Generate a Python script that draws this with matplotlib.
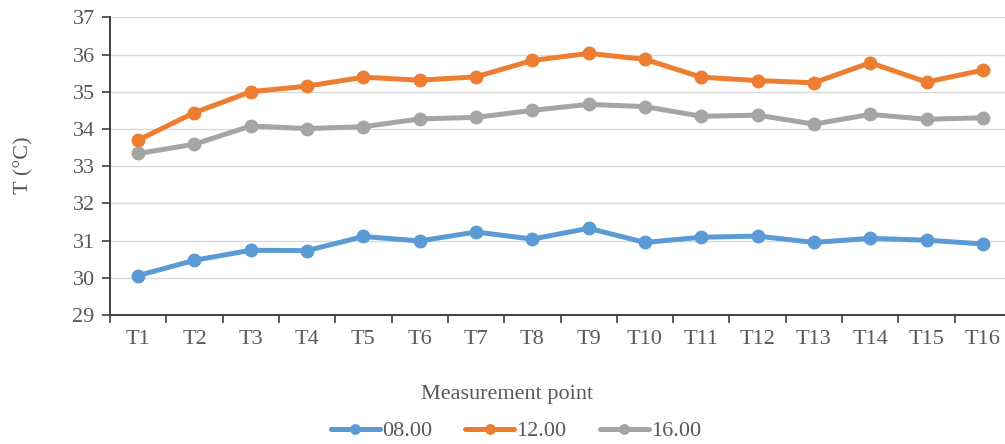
"""Temperature at the measurement points, three times of day."""
import matplotlib
matplotlib.use('Agg')
import matplotlib.pyplot as plt

POINTS = [f'T{i}' for i in range(1, 17)]
T_0800 = [30.06, 30.47, 30.74, 30.73, 31.11, 30.99, 31.23, 31.04,
          31.33, 30.95, 31.09, 31.12, 30.95, 31.06, 31.01, 30.91]
T_1200 = [33.70, 34.44, 35.00, 35.15, 35.39, 35.31, 35.40, 35.84,
          36.03, 35.87, 35.39, 35.30, 35.24, 35.78, 35.26, 35.58]
T_1600 = [33.34, 33.59, 34.08, 34.01, 34.06, 34.27, 34.31, 34.50,
          34.66, 34.60, 34.34, 34.37, 34.13, 34.39, 34.26, 34.30]
SERIES = [('08.00', T_0800, '#5B9BD5'),
          ('12.00', T_1200, '#ED7D31'),
          ('16.00', T_1600, '#A5A5A5')]
YTICKS = list(range(29, 38))

TXT = '#595959'
W, H = 1005, 444
FS = 16


def main():
    plt.rcParams['font.family'] = ['Liberation Serif', 'DejaVu Serif']
    fig = plt.figure(figsize=(W / 100, H / 100), dpi=100)
    # axes runs slightly past the right edge of the figure, as in the source
    ax = fig.add_axes([110 / W, 1 - 315 / H, 901 / W, 297.7 / H])

    x = list(range(1, len(POINTS) + 1))
    for name, vals, col in SERIES:
        ax.plot(x, vals, color=col, lw=3.6, marker='o', ms=9,
                solid_capstyle='round', label=name, zorder=3)

    ax.set_xlim(0.5, len(POINTS) + 0.5)
    ax.set_ylim(29, 37)
    ax.set_yticks(YTICKS)
    ax.set_xticks(x)
    ax.set_xticklabels(POINTS)
    ax.set_xticks([i + 0.5 for i in range(len(POINTS) + 1)], minor=True)
    ax.tick_params(axis='x', which='major', length=0, pad=11,
                   labelsize=FS, labelcolor=TXT)
    ax.tick_params(axis='x', which='minor', length=6, width=1.2,
                   color='#404040', direction='out')
    ax.tick_params(axis='y', length=6, width=1.2, color='#404040',
                   labelsize=FS, labelcolor=TXT, pad=5)

    ax.grid(axis='y', color='#d9d9d9', lw=1.0, zorder=0)
    for s in ('top', 'right'):
        ax.spines[s].set_visible(False)
    for s in ('left', 'bottom'):
        ax.spines[s].set_color('#404040')
        ax.spines[s].set_linewidth(1.4)

    fig.text(24 / W, 1 - 165 / H, 'T (°C)', rotation=90, ha='center',
             va='center', fontsize=FS, color=TXT)
    fig.text(507 / W, 1 - 394 / H, 'Measurement point', ha='center',
             va='center', fontsize=FS, color=TXT)

    handles, labels = ax.get_legend_handles_labels()
    fig.legend(handles, labels, loc='center', ncol=3,
               bbox_to_anchor=(516 / W, 1 - 431 / H), frameon=False,
               fontsize=FS, labelcolor=TXT, handlelength=2.2,
               handletextpad=0.1, columnspacing=1.5, markerscale=0.75)

    fig.savefig('out.png', dpi=100)


if __name__ == '__main__':
    main()
